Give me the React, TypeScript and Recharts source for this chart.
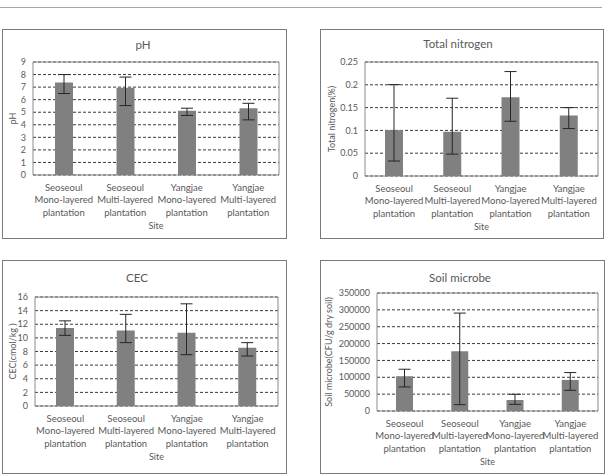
import React from "react";
import { BarChart, Bar, XAxis, YAxis, CartesianGrid, ErrorBar, ReferenceArea } from "recharts";

// categories
const siteNames = ["Seoseoul", "Seoseoul", "Yangjae", "Yangjae"];
const layerNames = ["Mono-layered", "Multi-layered", "Mono-layered", "Multi-layered"];

// pH
const phMean = [7.37, 6.94, 5.11, 5.32];
const phLow = [6.49, 5.53, 4.74, 4.39];
const phHigh = [8.0, 7.8, 5.32, 5.71];
const phTicks = [0, 1, 2, 3, 4, 5, 6, 7, 8, 9];

// Total nitrogen (%)
const tnMean = [0.1006, 0.097, 0.1727, 0.1327];
const tnLow = [0.0328, 0.048, 0.12, 0.104];
const tnHigh = [0.2004, 0.1706, 0.229, 0.15];
const tnTicks = [0, 0.05, 0.1, 0.15, 0.2, 0.25];

// CEC
const cecMean = [11.45, 11.1, 10.76, 8.56];
const cecLow = [10.37, 9.3, 7.53, 7.34];
const cecHigh = [12.5, 13.45, 15.0, 9.3];
const cecTicks = [0, 2, 4, 6, 8, 10, 12, 14, 16];

// Soil microbe
const smMean = [103000, 177400, 32700, 92200];
const smLow = [71400, 18800, 19800, 61400];
const smHigh = [123900, 290400, 49500, 114000];
const smTicks = [0, 50000, 100000, 150000, 200000, 250000, 300000, 350000];

const FONT = "Lato, 'Liberation Sans', sans-serif";
const TEXT = "#595959";

const buildRows = (mean: number[], low: number[], high: number[]) =>
  mean.map((m, i) => ({
    key: `${siteNames[i]}|${layerNames[i]}|plantation`,
    value: m,
    err: [m - low[i], high[i] - m],
  }));

type Rect = { left: number; top: number; right: number; bottom: number };

type PanelProps = {
  title: string;
  yLabel: string;
  rows: { key: string; value: number; err: number[] }[];
  ticks: number[];
  box: Rect;
  plot: Rect;
  titleX: number;
  titleY: number;
  yLabelX: number;
  barSize: number;
};

function CategoryTick(props: any) {
  const { x, y, payload } = props;
  const lines = String(payload.value).split("|");
  return (
    <text x={x} y={y} textAnchor="middle" fill={TEXT} fontSize={9.5} fontFamily={FONT}>
      {lines.map((l, i) => (
        <tspan key={i} x={x} dy={i === 0 ? 16 : 12.3}>
          {l}
        </tspan>
      ))}
    </text>
  );
}

function Panel({ title, yLabel, rows, ticks, box, plot, titleX, titleY, yLabelX, barSize }: PanelProps) {
  const w = box.right - box.left;
  const h = box.bottom - box.top;
  const yAxisW = plot.left - box.left;
  const xAxisH = box.bottom - plot.bottom;
  const plotMidY = (plot.top + plot.bottom) / 2 - box.top;
  const plotMidX = (plot.left + plot.right) / 2 - box.left;
  const max = ticks[ticks.length - 1];
  return (
    <div style={{ position: "absolute", left: box.left, top: box.top, width: w, height: h }}>
      <BarChart
        width={w}
        height={h}
        data={rows}
        margin={{ top: plot.top - box.top, right: box.right - plot.right, left: 0, bottom: 0 }}
        barCategoryGap={0}
      >
        <CartesianGrid vertical={false} stroke="#3a3a3a" strokeDasharray="3 2" />
        <XAxis
          dataKey="key"
          height={xAxisH}
          axisLine={false}
          tickLine={false}
          tickSize={0}
          tickMargin={0}
          interval={0}
          tick={<CategoryTick />}
        />
        <YAxis
          width={yAxisW}
          domain={[0, max]}
          ticks={ticks}
          interval={0}
          axisLine={false}
          tickLine={false}
          tickSize={0}
          tickMargin={7}
          tick={{ fill: TEXT, fontSize: 9, fontFamily: FONT }}
        />
        <Bar dataKey="value" fill="#808080" barSize={barSize} isAnimationActive={false}>
          <ErrorBar dataKey="err" direction="y" width={6} stroke="#262626" strokeWidth={1} isAnimationActive={false} />
        </Bar>
        <ReferenceArea y1={0} y2={max} fill="none" stroke="#8a8a8a" strokeWidth={1} ifOverflow="visible" />
      </BarChart>
      <svg
        width={w}
        height={h}
        style={{ position: "absolute", left: 0, top: 0, pointerEvents: "none", overflow: "visible" }}
      >
        <text
          x={titleX - box.left}
          y={titleY - box.top}
          textAnchor="middle"
          dominantBaseline="central"
          fill={TEXT}
          fontSize={11.5}
          fontFamily={FONT}
        >
          {title}
        </text>
        <text
          transform={`translate(${yLabelX},${plotMidY}) rotate(-90)`}
          textAnchor="middle"
          dominantBaseline="central"
          fill={TEXT}
          fontSize={9}
          fontFamily={FONT}
        >
          {yLabel}
        </text>
        <text
          x={plotMidX}
          y={plot.bottom - box.top + 54}
          textAnchor="middle"
          fill={TEXT}
          fontSize={9}
          fontFamily={FONT}
        >
          Site
        </text>
        <rect x={0.5} y={0.5} width={w - 1} height={h - 1} fill="none" stroke="#7a7a7a" strokeWidth={1} />
      </svg>
    </div>
  );
}

export default function App() {
  return (
    <div style={{ position: "fixed", left: 0, top: 0, width: 606, height: 476, background: "#fff", overflow: "hidden" }}>
      <div style={{ position: "absolute", left: 0, top: 7, width: 602, height: 1, background: "#a6a6a6" }} />
      <Panel
        title="pH"
        yLabel="pH"
        rows={buildRows(phMean, phLow, phHigh)}
        ticks={phTicks}
        box={{ left: 2, top: 29, right: 287, bottom: 239 }}
        plot={{ left: 33, top: 62, right: 279, bottom: 175 }}
        titleX={143}
        titleY={44}
        yLabelX={10}
        barSize={18}
      />
      <Panel
        title="Total nitrogen"
        yLabel="Total nitrogen(%)"
        rows={buildRows(tnMean, tnLow, tnHigh)}
        ticks={tnTicks}
        box={{ left: 320, top: 29, right: 604, bottom: 239 }}
        plot={{ left: 365, top: 62, right: 598, bottom: 176 }}
        titleX={458}
        titleY={43}
        yLabelX={11}
        barSize={18}
      />
      <Panel
        title="CEC"
        yLabel="CEC(cmol/kg )"
        rows={buildRows(cecMean, cecLow, cecHigh)}
        ticks={cecTicks}
        box={{ left: 2, top: 260, right: 287, bottom: 474 }}
        plot={{ left: 35, top: 297, right: 278, bottom: 406 }}
        titleX={137}
        titleY={277}
        yLabelX={10}
        barSize={18}
      />
      <Panel
        title="Soil microbe"
        yLabel="Soil microbe(CFU/g dry soil)"
        rows={buildRows(smMean, smLow, smHigh)}
        ticks={smTicks}
        box={{ left: 320, top: 260, right: 605, bottom: 474 }}
        plot={{ left: 377, top: 293, right: 598, bottom: 411 }}
        titleX={460}
        titleY={277}
        yLabelX={8}
        barSize={17}
      />
    </div>
  );
}
